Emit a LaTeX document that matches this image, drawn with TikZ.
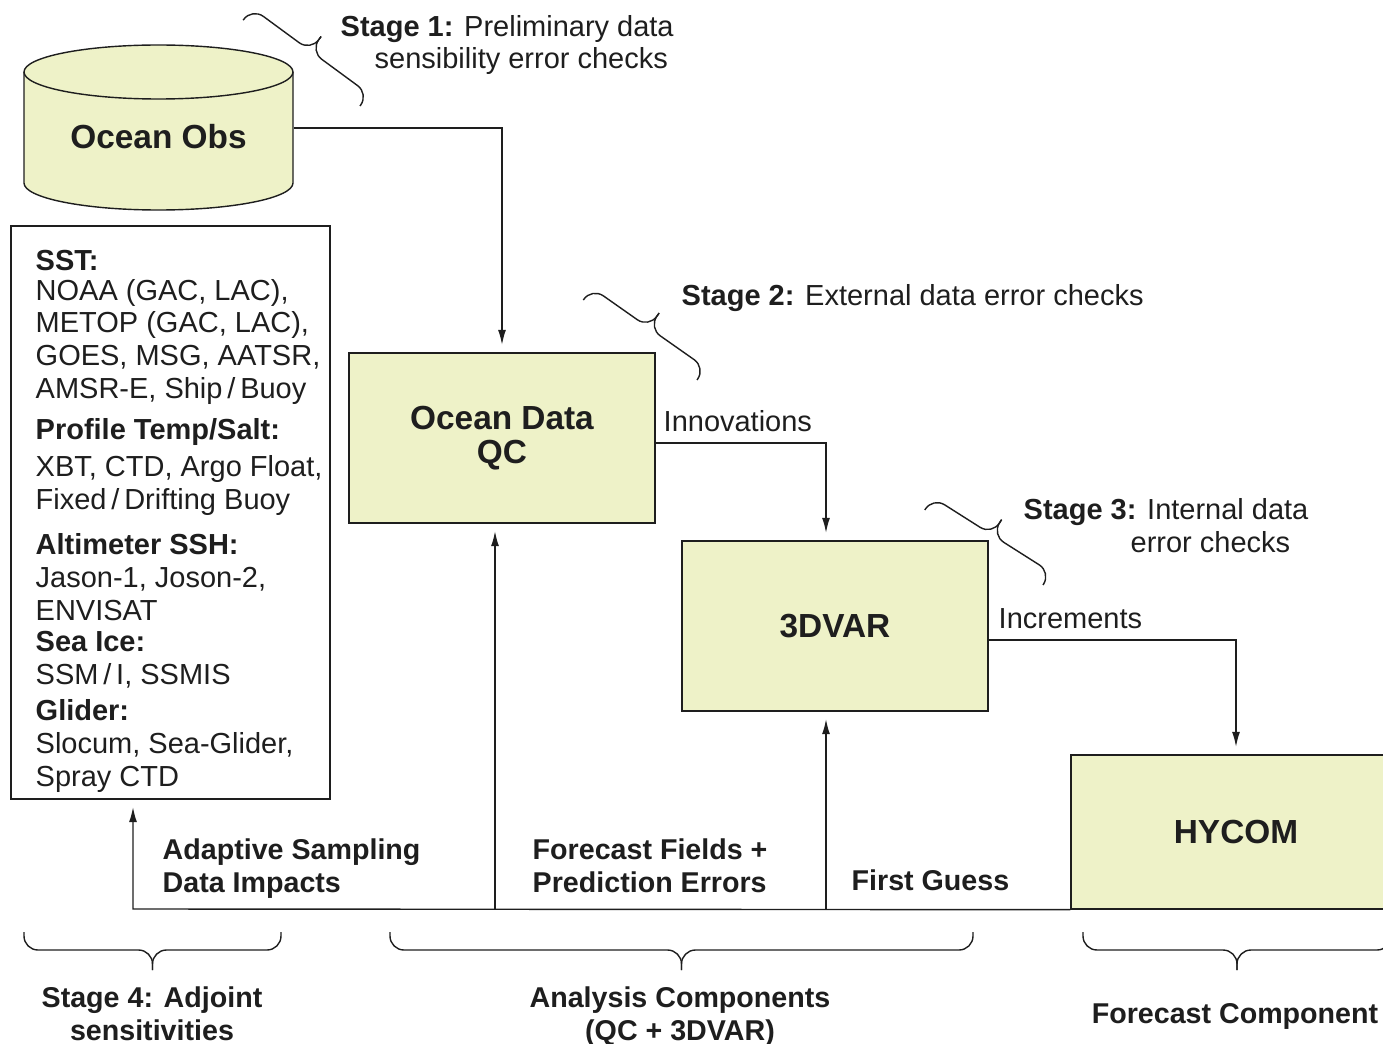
\documentclass[tikz,border=0pt]{standalone}
\usepackage{fontspec}
\setmainfont{Liberation Sans}
\usetikzlibrary{arrows.meta}
\definecolor{boxfill}{RGB}{238,242,200}
\definecolor{edge}{RGB}{30,30,30}

\begin{document}
\begin{tikzpicture}[x=0.02cm, y=-0.02cm, line width=0.8pt, color=edge,
  box/.style={draw, fill=boxfill, minimum width=6.12cm, minimum height=3.4cm, align=center,
    font=\fontsize{19}{19.5}\selectfont\bfseries},
  flow/.style={-{Latex[length=0.3cm,width=0.16cm]}, shorten >=0.15cm},
  lbl/.style={inner sep=0pt, anchor=base west, font=\fontsize{16.5}{18.7}\selectfont},
  blbl/.style={inner sep=0pt, anchor=base, align=center, font=\fontsize{16.3}{18.7}\selectfont\bfseries},
  % curly brace: length, rise of the ends, depth of the tip
  pics/curly/.style n args={3}{code={
    \draw[rounded corners=0.28cm] (0,0) -- (0,#2) -- ({#1/2},#2) -- ({#1/2},#3);
    \draw[rounded corners=0.28cm] (#1,0) -- (#1,#2) -- ({#1/2},#2) -- ({#1/2},#3);
  }}]

  \useasboundingbox (0,0) rectangle (1383,1044);

  % observation store
  \draw[fill=boxfill] (24,72) -- (24,183)
    arc [start angle=180, end angle=0, x radius=134.5, y radius=27] -- (293,72)
    arc [start angle=0, end angle=-180, x radius=134.5, y radius=27] -- cycle;
  \draw (24,72) arc [start angle=180, end angle=0, x radius=134.5, y radius=27];
  \node[inner sep=0pt, minimum width=5.38cm, font=\fontsize{19}{19.5}\selectfont\bfseries] (obs) at (158.5,137) {Ocean Obs};

  % data sources
  \node[draw, minimum width=6.38cm, minimum height=11.46cm, inner sep=0pt] (sensors) at (170.5,512.5) {};
  \node[lbl, align=left] (list) at (35,786) {\textbf{SST:}\\[-1.7pt]
    NOAA (GAC, LAC),\\ METOP (GAC, LAC),\\ GOES, MSG, AATSR,\\ AMSR-E, Ship\,/\,Buoy\\[4.5pt]
    \textbf{Profile Temp/Salt:}\\[2.3pt] XBT, CTD, Argo Float,\\ Fixed\,/\,Drifting Buoy\\[7.4pt]
    \textbf{Altimeter SSH:}\\ Jason-1, Joson-2,\\ ENVISAT\\[-1.1pt]
    \textbf{Sea Ice:}\\ SSM\,/\,I, SSMIS\\[1.7pt]
    \textbf{Glider:}\\ Slocum, Sea-Glider,\\ Spray CTD};

  % analysis and forecast
  \node[box] (qc) at (502,438) {Ocean Data\\QC};
  \node[box] (var) at (835,626) {3DVAR};
  \node[box, minimum width=6.6cm, minimum height=3.08cm] (hycom) at (1236,832) {HYCOM};

  \draw[flow] ([yshift=0.18cm]obs.east) -| (qc.north);
  \draw[flow] ([yshift=-0.1cm]qc.east) -| ([xshift=-0.18cm]var.north);
  \draw[flow] ([yshift=-0.28cm]var.east) -| (hycom.north);
  \node[lbl] (inno) at (663,431) {Innovations};
  \node[lbl] (incr) at (998,628) {Increments};

  % feedback along the bottom
  \coordinate (b1) at (133,909);
  \coordinate (b2) at (495,909);
  \coordinate (b3) at (826,909);
  \draw[flow] (hycom.south west) -- (b1) -- (b1 |- sensors.south);
  \draw[flow] (b2) -- (b2 |- qc.south);
  \draw[flow] (b3) -- (b3 |- var.south);
  \node[blbl, anchor=base west, align=left] (adapt) at (162,892) {Adaptive Sampling\\Data Impacts};
  \node[blbl, anchor=base west, align=left] (fcst) at (532,892) {Forecast Fields +\\Prediction Errors};
  \node[blbl, anchor=base west] (guess) at (851,890) {First Guess};

  % stages
  \pic[rotate=143.7] at (360,106) {curly={145}{15}{33}};
  \node[lbl, align=left] (stage1) at (340,69) {\textbf{Stage 1:} Preliminary data\\\hspace*{0.68cm}sensibility error checks};
  \pic[rotate=144.9] at (697,380) {curly={139}{15}{33}};
  \node[lbl] (stage2) at (681,306) {\textbf{Stage 2:} External data error checks};
  \pic[rotate=147.6] at (1043,585) {curly={140}{15}{33}};
  \node[lbl, align=left] (stage3) at (1023,552) {\textbf{Stage 3:} Internal data\\\hspace*{2.14cm}error checks};

  % groups
  \pic at (24,932) {curly={257}{18}{38}};
  \pic at (390,932) {curly={583}{18}{38}};
  \pic at (1083,932) {curly={308}{18}{38}};
  \node[blbl] (adj) at (152,1040) {Stage 4: Adjoint\\sensitivities};
  \node[blbl] (ana) at (680,1040) {Analysis Components\\(QC + 3DVAR)};
  \node[blbl] (fc) at (1235,1023) {Forecast Component};
\end{tikzpicture}
\end{document}
